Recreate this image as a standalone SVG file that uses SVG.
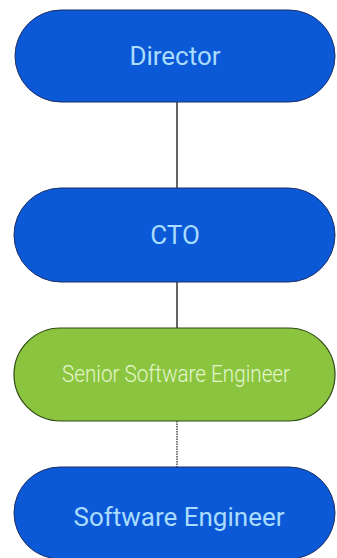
<svg xmlns="http://www.w3.org/2000/svg" width="337" height="558" viewBox="0 0 337 558">
  <style>
    .blue { fill: #0b59d6; stroke: #1c2f66; stroke-width: 1; }
    .green { fill: #8bc53f; stroke: #2e4a12; stroke-width: 1.2; }
    .lbl { font-family: Roboto, "Liberation Sans", sans-serif; font-size: 26px; fill: #a9dcff; text-anchor: middle; dominant-baseline: central; }
    .lbl-g { font-family: Roboto, "Liberation Sans", sans-serif; font-size: 23px; font-weight: 300; fill: #e3f6cc; text-anchor: middle; dominant-baseline: central; }
    .conn { stroke: #111; stroke-width: 1.3; fill: none; }
    .dot { stroke: #333; stroke-width: 1.3; stroke-dasharray: 1.5 1; fill: none; }
  </style>
  <rect width="337" height="558" fill="#ffffff"/>
  <g id="connectors">
    <line class="conn" x1="177" y1="102" x2="177" y2="188"/>
    <line class="conn" x1="177" y1="282" x2="177" y2="328"/>
    <line class="dot" x1="177" y1="421" x2="177" y2="467"/>
  </g>
  <g id="director">
    <rect class="blue" x="15" y="10" width="320" height="92" rx="46" ry="46"/>
    <text class="lbl" x="175" y="56">Director</text>
  </g>
  <g id="cto">
    <rect class="blue" x="14" y="188" width="321" height="94" rx="47" ry="47"/>
    <text class="lbl" x="175" y="235">CTO</text>
  </g>
  <g id="senior">
    <rect class="green" x="14" y="328" width="321" height="93" rx="46.5" ry="46.5"/>
    <text class="lbl-g" x="176" y="374" textLength="228" lengthAdjust="spacingAndGlyphs">Senior Software Engineer</text>
  </g>
  <g id="software-engineer">
    <rect class="blue" x="14" y="467" width="321" height="92" rx="46" ry="46"/>
    <text class="lbl" x="179" y="517">Software Engineer</text>
  </g>
</svg>
